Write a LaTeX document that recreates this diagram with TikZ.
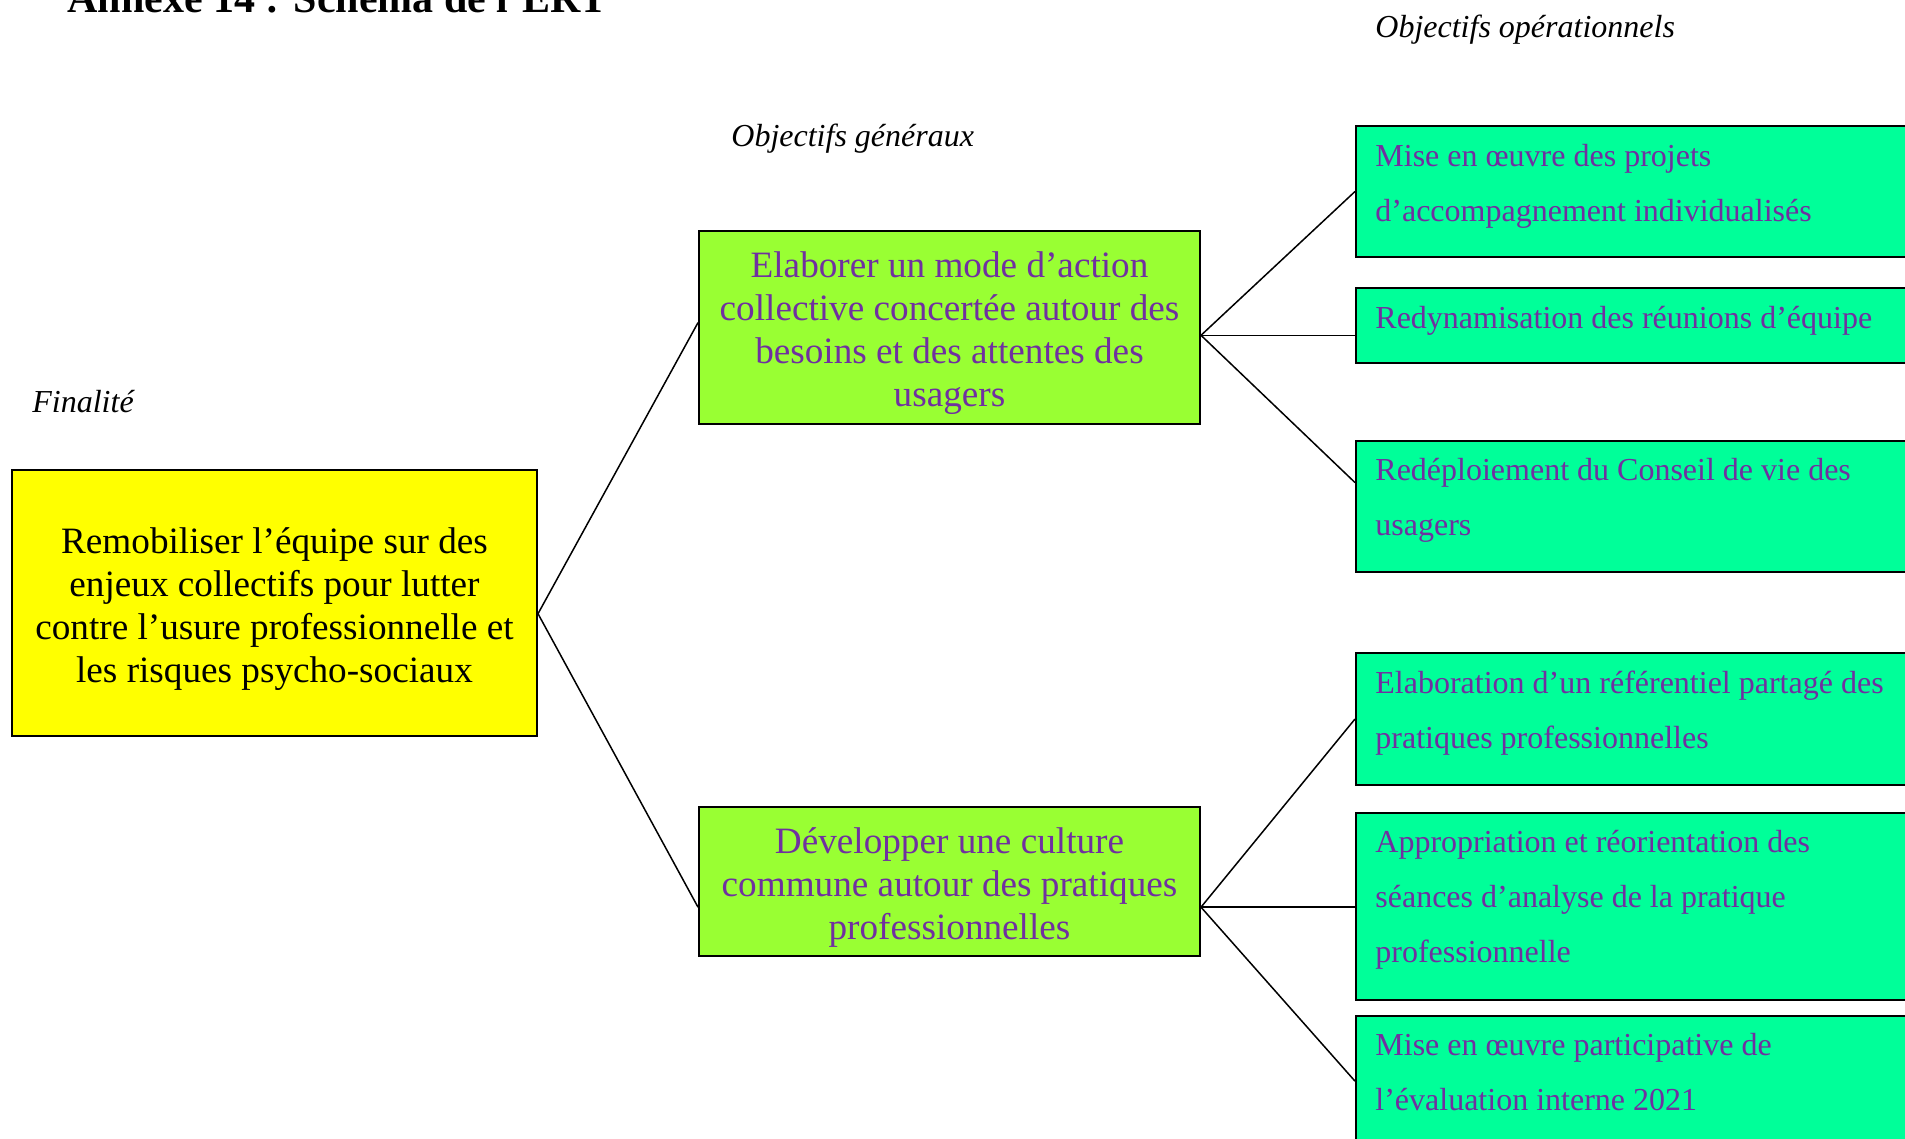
\documentclass[tikz,border=0pt]{standalone}
\usepackage{fontspec}
\setmainfont{Liberation Serif}
\usetikzlibrary{calc}
\definecolor{yel}{HTML}{FFFF00}
\definecolor{lime}{HTML}{99FF33}
\definecolor{mint}{HTML}{00FF99}
\definecolor{violet}{HTML}{7030A0}
\newcommand{\topadj}{\rule{0pt}{18.7pt}}
\tikzset{
  bigbox/.style={draw=black, line width=1pt, rectangle, align=center, inner sep=0pt,
    font=\fontsize{18.6pt}{21.5pt}\selectfont},
  finbox/.style={bigbox, fill=yel, text=black},
  genbox/.style={bigbox, fill=lime, text=violet},
  opbox/.style={draw=black, line width=1pt, rectangle, fill=mint, inner sep=0pt, anchor=north west},
  optext/.style={anchor=north west, align=left, inner sep=0pt, text=violet,
    font=\fontsize{16pt}{27.5pt}\selectfont},
  lbl/.style={anchor=base west, inner sep=0pt, font=\fontsize{16pt}{19pt}\selectfont\itshape},
  link/.style={draw=black, line width=0.75pt}
}
\begin{document}
\begin{tikzpicture}[x=0.5pt, y=-0.5pt]
\clip (0,0) rectangle (1905,1139);
\fill[white] (0,0) rectangle (1905,1139);

% title and labels
\node[anchor=base west, inner sep=0pt, font=\fontsize{21pt}{25pt}\selectfont\bfseries] (title) at (67,13) {Annexe 14 : Schéma de l’ERT};
\node[lbl] (lop) at (1375,37.5) {Objectifs opérationnels};
\node[lbl] (lgen) at (731,146.5) {Objectifs généraux};
\node[lbl] (lfin) at (32,412) {Finalité};

% finalité
\node[finbox, minimum width=262.5pt, minimum height=133pt] (F) at (274.5,603) {\topadj Remobiliser l’équipe sur des\\enjeux collectifs pour lutter\\contre l’usure professionnelle et\\les risques psycho-sociaux};

% objectifs généraux
\node[genbox, minimum width=250.5pt, minimum height=96.5pt] (G1) at (949.5,327.5) {\topadj Elaborer un mode d’action\\collective concertée autour des\\besoins et des attentes des\\usagers};
\node[genbox, minimum width=250.5pt, minimum height=74.5pt] (G2) at (949.5,881.5) {\topadj Développer une culture\\commune autour des pratiques\\professionnelles};

% objectifs opérationnels (boxes)
\node[opbox, minimum width=310pt, minimum height=65.5pt] (R1) at (1355,125) {};
\node[opbox, minimum width=310pt, minimum height=37.5pt] (R2) at (1355,287) {};
\node[opbox, minimum width=310pt, minimum height=65.5pt] (R3) at (1355,440) {};
\node[opbox, minimum width=310pt, minimum height=66pt]   (R4) at (1355,652) {};
\node[opbox, minimum width=310pt, minimum height=93.5pt] (R5) at (1355,812) {};
\node[opbox, minimum width=310pt, minimum height=93.5pt] (R6) at (1355,1015) {};

% texts
\node[optext] (T1) at ($(R1.north west)+(20,19)$) {Mise en œuvre des projets\\d’accompagnement individualisés};
\node[optext] (T2) at ($(R2.north west)+(20,19)$) {Redynamisation des réunions d’équipe};
\node[optext] (T3) at ($(R3.north west)+(20,18)$) {Redéploiement du Conseil de vie des\\usagers};
\node[optext] (T4) at ($(R4.north west)+(20,19)$) {Elaboration d’un référentiel partagé des\\pratiques professionnelles};
\node[optext] (T5) at ($(R5.north west)+(20,18)$) {Appropriation et réorientation des\\séances d’analyse de la pratique\\professionnelle};
\node[optext] (T6) at ($(R6.north west)+(20,18)$) {Mise en œuvre participative de\\l’évaluation interne 2021};

% connection points
\coordinate (Fo) at ($(F.north east)!0.54!(F.south east)$);
\coordinate (G1i) at ($(G1.north west)!0.475!(G1.south west)$);
\coordinate (G1o) at ($(G1.north east)!0.54!(G1.south east)$);
\coordinate (G2i) at ($(G2.north west)!0.67!(G2.south west)$);
\coordinate (G2o) at ($(G2.north east)!0.67!(G2.south east)$);
\coordinate (R3i) at ($(R3.north west)!0.32!(R3.south west)$);
\coordinate (R6i) at ($(R6.north west)!0.35!(R6.south west)$);

\draw[link] (Fo) -- (G1i);
\draw[link] (Fo) -- (G2i);
\draw[link] (G1o) -- (R1.west);
\draw[link] (G1o) -- (R2.west |- G1o);
\draw[link] (G1o) -- (R3i);
\draw[link] (G2o) -- (R4.west);
\draw[link] (G2o) -- (R5.west |- G2o);
\draw[link] (G2o) -- (R6i);
\end{tikzpicture}
\end{document}
